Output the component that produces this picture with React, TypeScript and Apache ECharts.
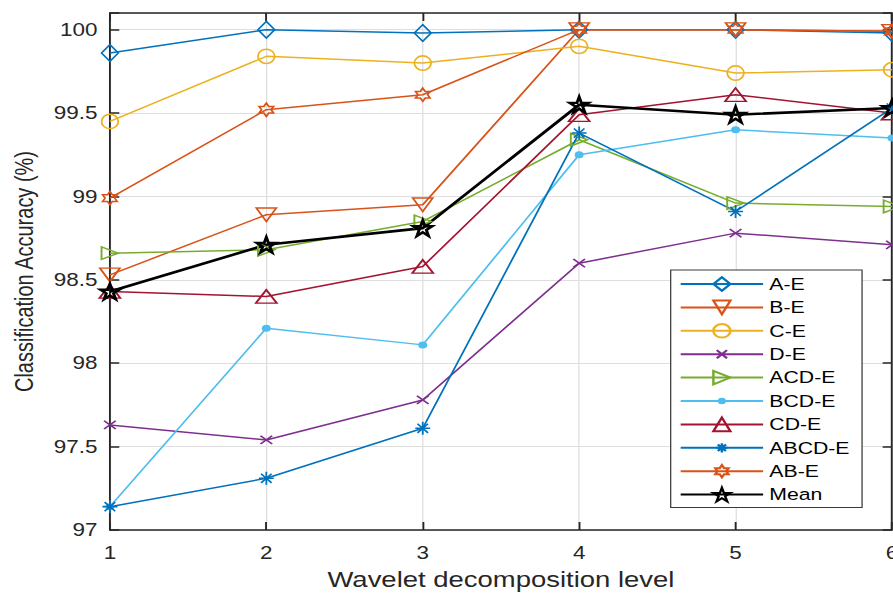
import React, { useEffect, useRef } from 'react';
import * as echarts from 'echarts';

// ---------------- data ----------------
const levels = [1, 2, 3, 4, 5, 6];
const xTickLabels = ['1', '2', '3', '4', '5', '6'];
const yTickLabels = ['97', '97.5', '98', '98.5', '99', '99.5', '100'];
const seriesNames = ['A-E', 'B-E', 'C-E', 'D-E', 'ACD-E', 'BCD-E', 'CD-E', 'ABCD-E', 'AB-E', 'Mean'];

const accAE = [99.86, 100.0, 99.98, 100.0, 100.0, 99.98];
const accBE = [98.53, 98.89, 98.95, 100.0, 100.0, 99.99];
const accCE = [99.45, 99.84, 99.8, 99.9, 99.74, 99.76];
const accDE = [97.63, 97.54, 97.78, 98.6, 98.78, 98.71];
const accACDE = [98.66, 98.68, 98.85, 99.34, 98.96, 98.94];
const accBCDE = [97.14, 98.21, 98.11, 99.25, 99.4, 99.35];
const accCDE = [98.43, 98.4, 98.58, 99.49, 99.61, 99.5];
const accABCDE = [97.14, 97.31, 97.61, 99.38, 98.91, 99.53];
const accABE = [98.99, 99.52, 99.61, 100.0, 100.0, 99.99];
const accMean = [98.43, 98.71, 98.81, 99.55, 99.49, 99.53];

const allValues = [accAE, accBE, accCE, accDE, accACDE, accBCDE, accCDE, accABCDE, accABE, accMean];

// ---------------- marker shapes ----------------
const f = (n: number) => n.toFixed(2);
const poly = (pts: number[][]) => 'M' + pts.map((p) => f(p[0]) + ',' + f(p[1])).join('L') + 'Z';
const starPts = (n: number, R: number, r: number, startDeg: number) => {
  const pts: number[][] = [];
  for (let i = 0; i < 2 * n; i++) {
    const a = ((startDeg + (i * 180) / n) * Math.PI) / 180;
    const rad = i % 2 === 0 ? R : r;
    pts.push([10 + rad * Math.cos(a), 10 + rad * Math.sin(a)]);
  }
  return pts;
};
const BOX = 'M0,0M20,20';
const SYM_DIAMOND = 'path://M10,0L20,10L10,20L0,10Z';
const SYM_DOWN = 'path://M0,0L20,0L10,20Z';
const SYM_CIRCLE = 'path://M0,10A10,10,0,1,1,20,10A10,10,0,1,1,0,10Z';
const SYM_X = 'path://' + BOX + 'M4,4L16,16M16,4L4,16';
const SYM_RIGHT = 'path://M0,0L20,10L0,20Z';
const SYM_DOT = 'path://' + BOX + 'M5.2,10A4.8,4.8,0,1,1,14.8,10A4.8,4.8,0,1,1,5.2,10Z';
const SYM_UP = 'path://M10,0L20,20L0,20Z';
const SYM_AST = 'path://' + BOX + 'M10,3.2L10,16.8M3.2,10L16.8,10M5.19,5.19L14.81,14.81M14.81,5.19L5.19,14.81';
const SYM_HEX = 'path://' + BOX + poly(starPts(6, 9, 5.196, -90));
const SYM_PENT = 'path://' + poly(starPts(5, 10, 3.82, -90));

const styles: any[] = [
  { color: '#0072BD', symbol: SYM_DIAMOND, size: [13.4, 16.7] },
  { color: '#D95319', symbol: SYM_DOWN, size: [16, 13.5] },
  { color: '#EDB120', symbol: SYM_CIRCLE, size: [13.4, 14.3] },
  { color: '#7E2F8E', symbol: SYM_X, size: [15.6, 13.8] },
  { color: '#77AC30', symbol: SYM_RIGHT, size: [13.4, 12.5] },
  { color: '#4DBEEE', symbol: SYM_DOT, size: [15, 14.6], filled: true },
  { color: '#A2142F', symbol: SYM_UP, size: [16.8, 13.3] },
  { color: '#0072BD', symbol: SYM_AST, size: [17.6, 19] },
  { color: '#D95319', symbol: SYM_HEX, size: [14.9, 14.8] },
  { color: '#000000', symbol: SYM_PENT, size: [15, 15.5], lineWidth: 2.6, borderWidth: 2.4 },
];

const FONT = '"Liberation Sans", Arial, Helvetica, sans-serif';
const TEXT = '#262626';
const GRID = '#dedede';
const INNER_W = 715;
const INNER_H = 593;
const STRETCH = 893 / INNER_W;

const yLabel = (v: number) => {
  const s = yTickLabels.find((t) => Math.abs(parseFloat(t) - v) < 1e-6);
  return s ?? '';
};
const xLabel = (v: number) => {
  const s = xTickLabels.find((t) => Math.abs(parseFloat(t) - v) < 1e-6);
  return s ?? '';
};

const axisLineStyle = { color: TEXT, width: 1.5 };

export default function App() {
  const ref = useRef<HTMLDivElement>(null);
  useEffect(() => {
    const el = ref.current!;
    const chart = echarts.init(el, null, { renderer: 'svg' });
    const option: any = {
      animation: false,
      backgroundColor: '#ffffff',
      grid: { left: 88, right: 0.8, top: 13, bottom: 63, containLabel: false, outerBoundsMode: 'none' },
      legend: {
        show: true,
        orient: 'vertical',
        left: 537,
        top: 270,
        itemWidth: 66,
        itemHeight: 17,
        itemGap: 6.4,
        padding: [5.5, 10, 4.5, 7],
        backgroundColor: '#ffffff',
        borderColor: '#3a3a3a',
        borderWidth: 1,
        borderRadius: 0,
        selectedMode: false,
        textStyle: { fontSize: 17, color: '#000', fontFamily: FONT },
        data: seriesNames,
      },
      xAxis: [
        {
          type: 'value',
          min: 1,
          max: 6,
          interval: 1,
          position: 'bottom',
          name: 'Wavelet decomposition level',
          nameLocation: 'middle',
          nameGap: 38,
          nameTextStyle: { fontSize: 22, color: TEXT, fontFamily: FONT },
          axisLine: { show: true, onZero: false, lineStyle: axisLineStyle },
          axisTick: { show: true, inside: true, length: 8, lineStyle: axisLineStyle },
          axisLabel: { show: true, margin: 14, fontSize: 18, color: TEXT, fontFamily: FONT, formatter: xLabel },
          splitLine: { show: true, lineStyle: { color: GRID, width: 1 } },
        },
        {
          type: 'value',
          min: 1,
          max: 6,
          interval: 1,
          position: 'top',
          axisLine: { show: true, onZero: false, lineStyle: axisLineStyle },
          axisTick: { show: true, inside: true, length: 8, lineStyle: axisLineStyle },
          axisLabel: { show: false },
          splitLine: { show: false },
        },
      ],
      yAxis: [
        {
          type: 'value',
          min: 97,
          max: 100.1,
          interval: 0.5,
          position: 'left',
          name: 'Classification Accuracy (%)',
          nameLocation: 'middle',
          nameGap: 58,
          nameTextStyle: { fontSize: 20, color: TEXT, fontFamily: FONT },
          axisLine: { show: true, onZero: false, lineStyle: axisLineStyle },
          axisTick: { show: true, inside: true, length: 7.5, lineStyle: axisLineStyle },
          axisLabel: { show: true, margin: 10, fontSize: 18, color: TEXT, fontFamily: FONT, formatter: yLabel },
          splitLine: { show: true, lineStyle: { color: GRID, width: 1 } },
        },
        {
          type: 'value',
          min: 97,
          max: 100.1,
          interval: 0.5,
          position: 'right',
          axisLine: { show: true, onZero: false, lineStyle: axisLineStyle },
          axisTick: { show: true, inside: true, length: 7.5, lineStyle: axisLineStyle },
          axisLabel: { show: false },
          splitLine: { show: false },
        },
      ],
      series: seriesNames.map((name, i) => {
        const st = styles[i];
        return {
          name,
          type: 'line',
          xAxisIndex: 0,
          yAxisIndex: 0,
          data: levels.map((x, j) => [x, allValues[i][j]]),
          symbol: st.symbol,
          symbolSize: st.size,
          showSymbol: true,
          showAllSymbol: true,
          clip: false,
          lineStyle: { color: st.color, width: st.lineWidth ?? 1.5 },
          itemStyle: st.filled
            ? { color: st.color, borderWidth: 0 }
            : { color: 'transparent', borderColor: st.color, borderWidth: st.borderWidth ?? 1.5 },
          emphasis: { disabled: true },
        };
      }),
    };
    chart.setOption(option);
    return () => chart.dispose();
  }, []);

  return (
    <div
      ref={ref}
      style={{
        position: 'absolute',
        left: 0,
        top: 0,
        width: INNER_W,
        height: INNER_H,
        transform: `scaleX(${STRETCH})`,
        transformOrigin: '0 0',
      }}
    />
  );
}
